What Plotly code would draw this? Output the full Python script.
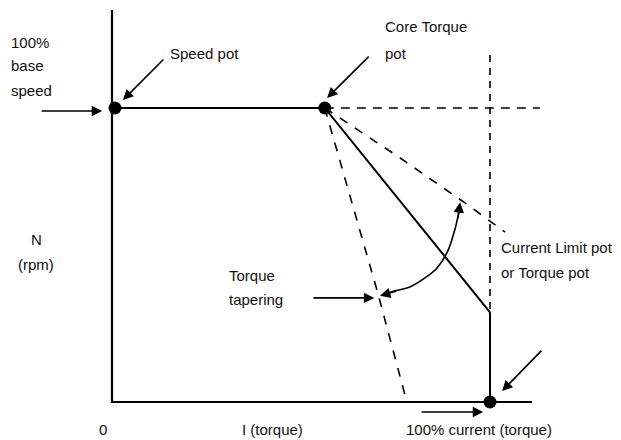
import plotly.graph_objects as go

# Diagram coordinates: x = current/torque (%), y = speed (%)
axis_x = [0, 0, 111.1]
axis_y = [133.3, 0, 0]

solid_x = [0, 56.3, 100, 100]
solid_y = [100, 100, 30.5, 0]

dash_h_x = [56.3, 113.2]
dash_h_y = [100, 100]

dash_v_x = [100, 100]
dash_v_y = [118, 31]

taper_steep_x = [56.3, 70.4, 78.0]
taper_steep_y = [100, 36.7, 0]

taper_soft_x = [56.3, 75.9, 93.4, 104.0]
taper_soft_y = [100, 83.3, 67.7, 57.8]

curve_x = [91.9, 91.5, 89.9, 88.6, 86.0, 82.8, 78.8, 74.9, 71.2]
curve_y = [66.5, 62.9, 55.1, 50.7, 45.6, 42.2, 39.1, 37.8, 36.2]

dot_x = [0.8, 56.3, 100]
dot_y = [100, 100, 0]

# arrows: (tail x, tail y, head x, head y)
arrows = [
    (14.0, 117.0, 2.9, 102.7),
    (-19.0, 99.0, -2.6, 99.0),
    (68.3, 118.0, 56.9, 103.4),
    (52.9, 35.4, 69.4, 35.4),
    (114.0, 18.0, 103.2, 3.7),
    (81.5, -3.4, 98.2, -3.4),
    (91.5, 62.0, 92.1, 67.9),
    (75.5, 37.8, 70.9, 36.1),
]

label_text = ["100%", "base", "speed", "Speed pot", "Core Torque", "pot",
              "N", "(rpm)", "Torque", "tapering", "Current Limit pot",
              "or Torque pot", "0", "I (torque)", "100% current (torque)"]
label_x = [-27.2, -27.2, -27.2, 14.8, 71.7, 71.7, -20.1, -20.1, 30.4, 30.4,
           102.4, 102.4, -2.4, 33.9, 77.2]
label_y = [122.4, 114.3, 106.1, 118.7, 127.6, 118.7, 55.1, 46.6, 42.9, 34.7,
           52.7, 44.2, -9.5, -9.5, -9.5]
label_anchor = ["left", "left", "left", "left", "left", "left", "center",
                "center", "left", "left", "left", "left", "center", "left", "left"]

fig = go.Figure()
black = "#000000"

fig.add_trace(go.Scatter(x=axis_x, y=axis_y, mode="lines",
                         line=dict(color=black, width=2.2)))
fig.add_trace(go.Scatter(x=solid_x, y=solid_y, mode="lines",
                         line=dict(color=black, width=2)))
fig.add_trace(go.Scatter(x=dash_h_x, y=dash_h_y, mode="lines",
                         line=dict(color=black, width=1.6, dash="9px,7px")))
fig.add_trace(go.Scatter(x=dash_v_x, y=dash_v_y, mode="lines",
                         line=dict(color=black, width=1.6, dash="7px,6px")))
fig.add_trace(go.Scatter(x=taper_steep_x, y=taper_steep_y, mode="lines",
                         line=dict(color=black, width=1.6, dash="9px,9px")))
fig.add_trace(go.Scatter(x=taper_soft_x, y=taper_soft_y, mode="lines",
                         line=dict(color=black, width=1.6, dash="9px,9px")))
fig.add_trace(go.Scatter(x=curve_x, y=curve_y, mode="lines",
                         line=dict(color=black, width=1.6, shape="spline")))
fig.add_trace(go.Scatter(x=dot_x, y=dot_y, mode="markers",
                         marker=dict(color=black, size=13)))

for tx, ty, hx, hy in arrows:
    fig.add_annotation(x=hx, y=hy, ax=tx, ay=ty, xref="x", yref="y",
                       axref="x", ayref="y", text="", showarrow=True,
                       arrowhead=2, arrowsize=1.3, arrowwidth=1.6,
                       arrowcolor=black, standoff=0, startstandoff=0)

for t, x, y, a in zip(label_text, label_x, label_y, label_anchor):
    fig.add_annotation(x=x, y=y, xref="x", yref="y", text=t, showarrow=False,
                       xanchor=a, yanchor="middle",
                       font=dict(family="Liberation Sans, Arial, sans-serif",
                                 size=15, color="#111111"))

# page body adds an 8px margin, so the figure is 8px smaller and its ranges
# start 8px into the window
fig.update_layout(
    width=613, height=432, margin=dict(l=0, r=0, t=0, b=0),
    paper_bgcolor="white", plot_bgcolor="white", showlegend=False,
    xaxis=dict(range=[-27.51, 134.66], visible=False, fixedrange=True),
    yaxis=dict(range=[-12.93, 134.01], visible=False, fixedrange=True),
)

fig.write_html("out.html")
